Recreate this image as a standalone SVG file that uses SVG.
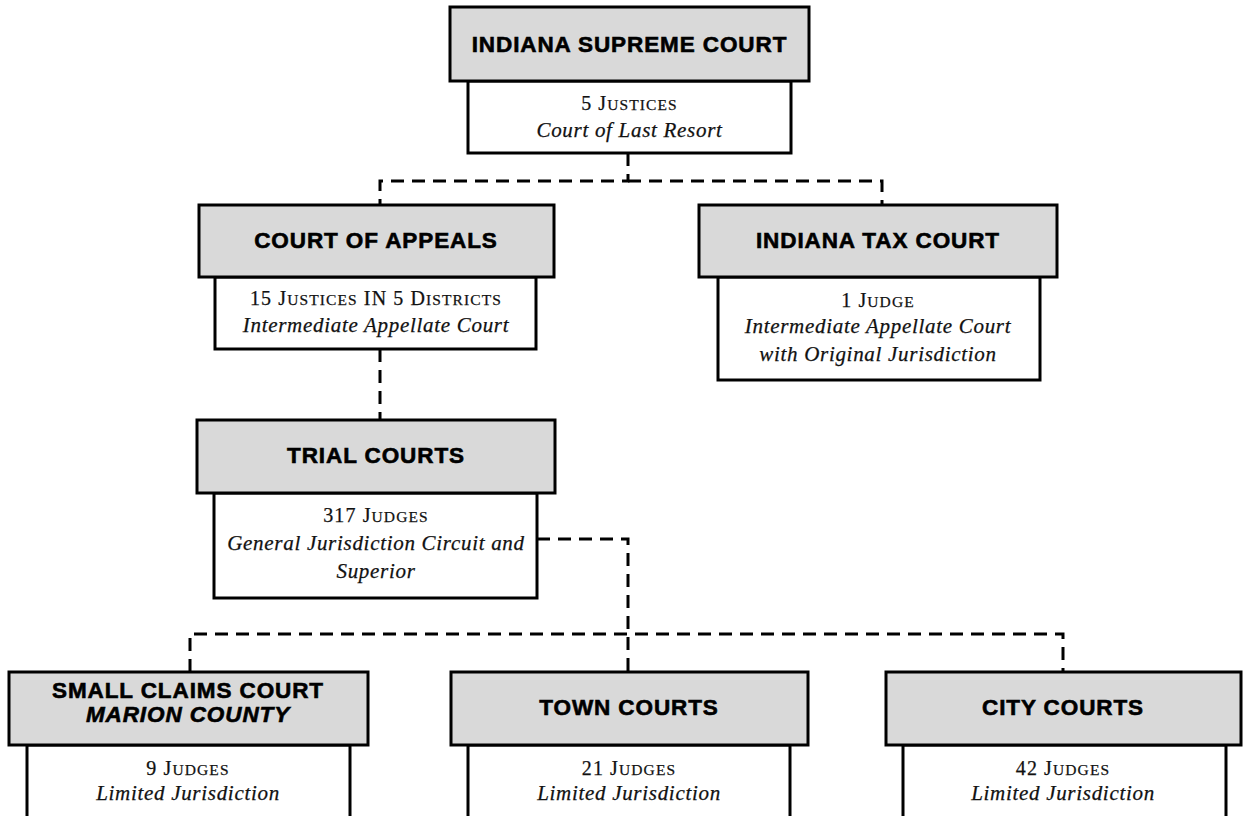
<svg xmlns="http://www.w3.org/2000/svg" width="1243" height="816" viewBox="0 0 1243 816">
<style>
.hd{fill:#d9d9d9;stroke:#000;stroke-width:3}
.sb{fill:#fff;stroke:#000;stroke-width:3}
.ht{font-family:"Liberation Sans",Arial,sans-serif;font-weight:bold;font-size:22.5px;letter-spacing:0.9px;text-anchor:middle;fill:#000;stroke:#000;stroke-width:0.6}
.hi{font-style:italic}
.st{font-family:"Liberation Serif","Times New Roman",serif;font-size:20px;letter-spacing:1.1px;text-anchor:middle;fill:#111;stroke:#111;stroke-width:0.25}
.sc{font-size:15.5px}
.it{font-style:italic;font-size:21px;letter-spacing:0.7px}
.cn{fill:none;stroke:#000;stroke-width:3;stroke-dasharray:13 8}
</style>
<rect width="1243" height="816" fill="#fff"/>
<g id="connectors">
<path class="cn" d="M628,153 V181 H380 V205"/>
<path class="cn" d="M628,181 H882 V205"/>
<path class="cn" d="M380,349 V420"/>
<path class="cn" d="M537,539 H628 V672"/>
<path class="cn" d="M190,672 V634 H1063 V672"/>
</g>
<g id="supreme">
<rect class="sb" x="468" y="81" width="323" height="72"/>
<rect class="hd" x="450" y="7" width="359" height="74"/>
<text class="ht" x="629.5" y="52">INDIANA SUPREME COURT</text>
<text class="st" x="629.5" y="110">5 J<tspan class="sc">USTICES</tspan></text>
<text class="st it" x="629.5" y="137">Court of Last Resort</text>
</g>
<g id="appeals">
<rect class="sb" x="215" y="277" width="321" height="72"/>
<rect class="hd" x="199" y="205" width="355" height="72"/>
<text class="ht" x="376" y="248">COURT OF APPEALS</text>
<text class="st" x="376" y="305">15 J<tspan class="sc">USTICES</tspan> IN 5 D<tspan class="sc">ISTRICTS</tspan></text>
<text class="st it" x="376" y="332">Intermediate Appellate Court</text>
</g>
<g id="tax">
<rect class="sb" x="718" y="277" width="322" height="103"/>
<rect class="hd" x="699" y="205" width="358" height="72"/>
<text class="ht" x="878" y="248">INDIANA TAX COURT</text>
<text class="st" x="878" y="307">1 J<tspan class="sc">UDGE</tspan></text>
<text class="st it" x="878" y="333">Intermediate Appellate Court</text>
<text class="st it" x="878" y="361">with Original Jurisdiction</text>
</g>
<g id="trial">
<rect class="sb" x="214" y="493" width="323" height="105"/>
<rect class="hd" x="197" y="420" width="358" height="73"/>
<text class="ht" x="376" y="463">TRIAL COURTS</text>
<text class="st" x="376" y="522">317 J<tspan class="sc">UDGES</tspan></text>
<text class="st it" x="376" y="550">General Jurisdiction Circuit and</text>
<text class="st it" x="376" y="578">Superior</text>
</g>
<g id="smallclaims">
<rect class="sb" x="27" y="745" width="323" height="80"/>
<rect class="hd" x="9" y="672" width="359" height="73"/>
<text class="ht" x="188" y="698">SMALL CLAIMS COURT</text>
<text class="ht hi" x="188" y="722">MARION COUNTY</text>
<text class="st" x="188" y="775">9 J<tspan class="sc">UDGES</tspan></text>
<text class="st it" x="188" y="800">Limited Jurisdiction</text>
</g>
<g id="town">
<rect class="sb" x="468" y="745" width="322" height="80"/>
<rect class="hd" x="451" y="672" width="357" height="73"/>
<text class="ht" x="629" y="715">TOWN COURTS</text>
<text class="st" x="629" y="775">21 J<tspan class="sc">UDGES</tspan></text>
<text class="st it" x="629" y="800">Limited Jurisdiction</text>
</g>
<g id="city">
<rect class="sb" x="903" y="745" width="323" height="80"/>
<rect class="hd" x="886" y="672" width="355" height="73"/>
<text class="ht" x="1063" y="715">CITY COURTS</text>
<text class="st" x="1063" y="775">42 J<tspan class="sc">UDGES</tspan></text>
<text class="st it" x="1063" y="800">Limited Jurisdiction</text>
</g>
</svg>
